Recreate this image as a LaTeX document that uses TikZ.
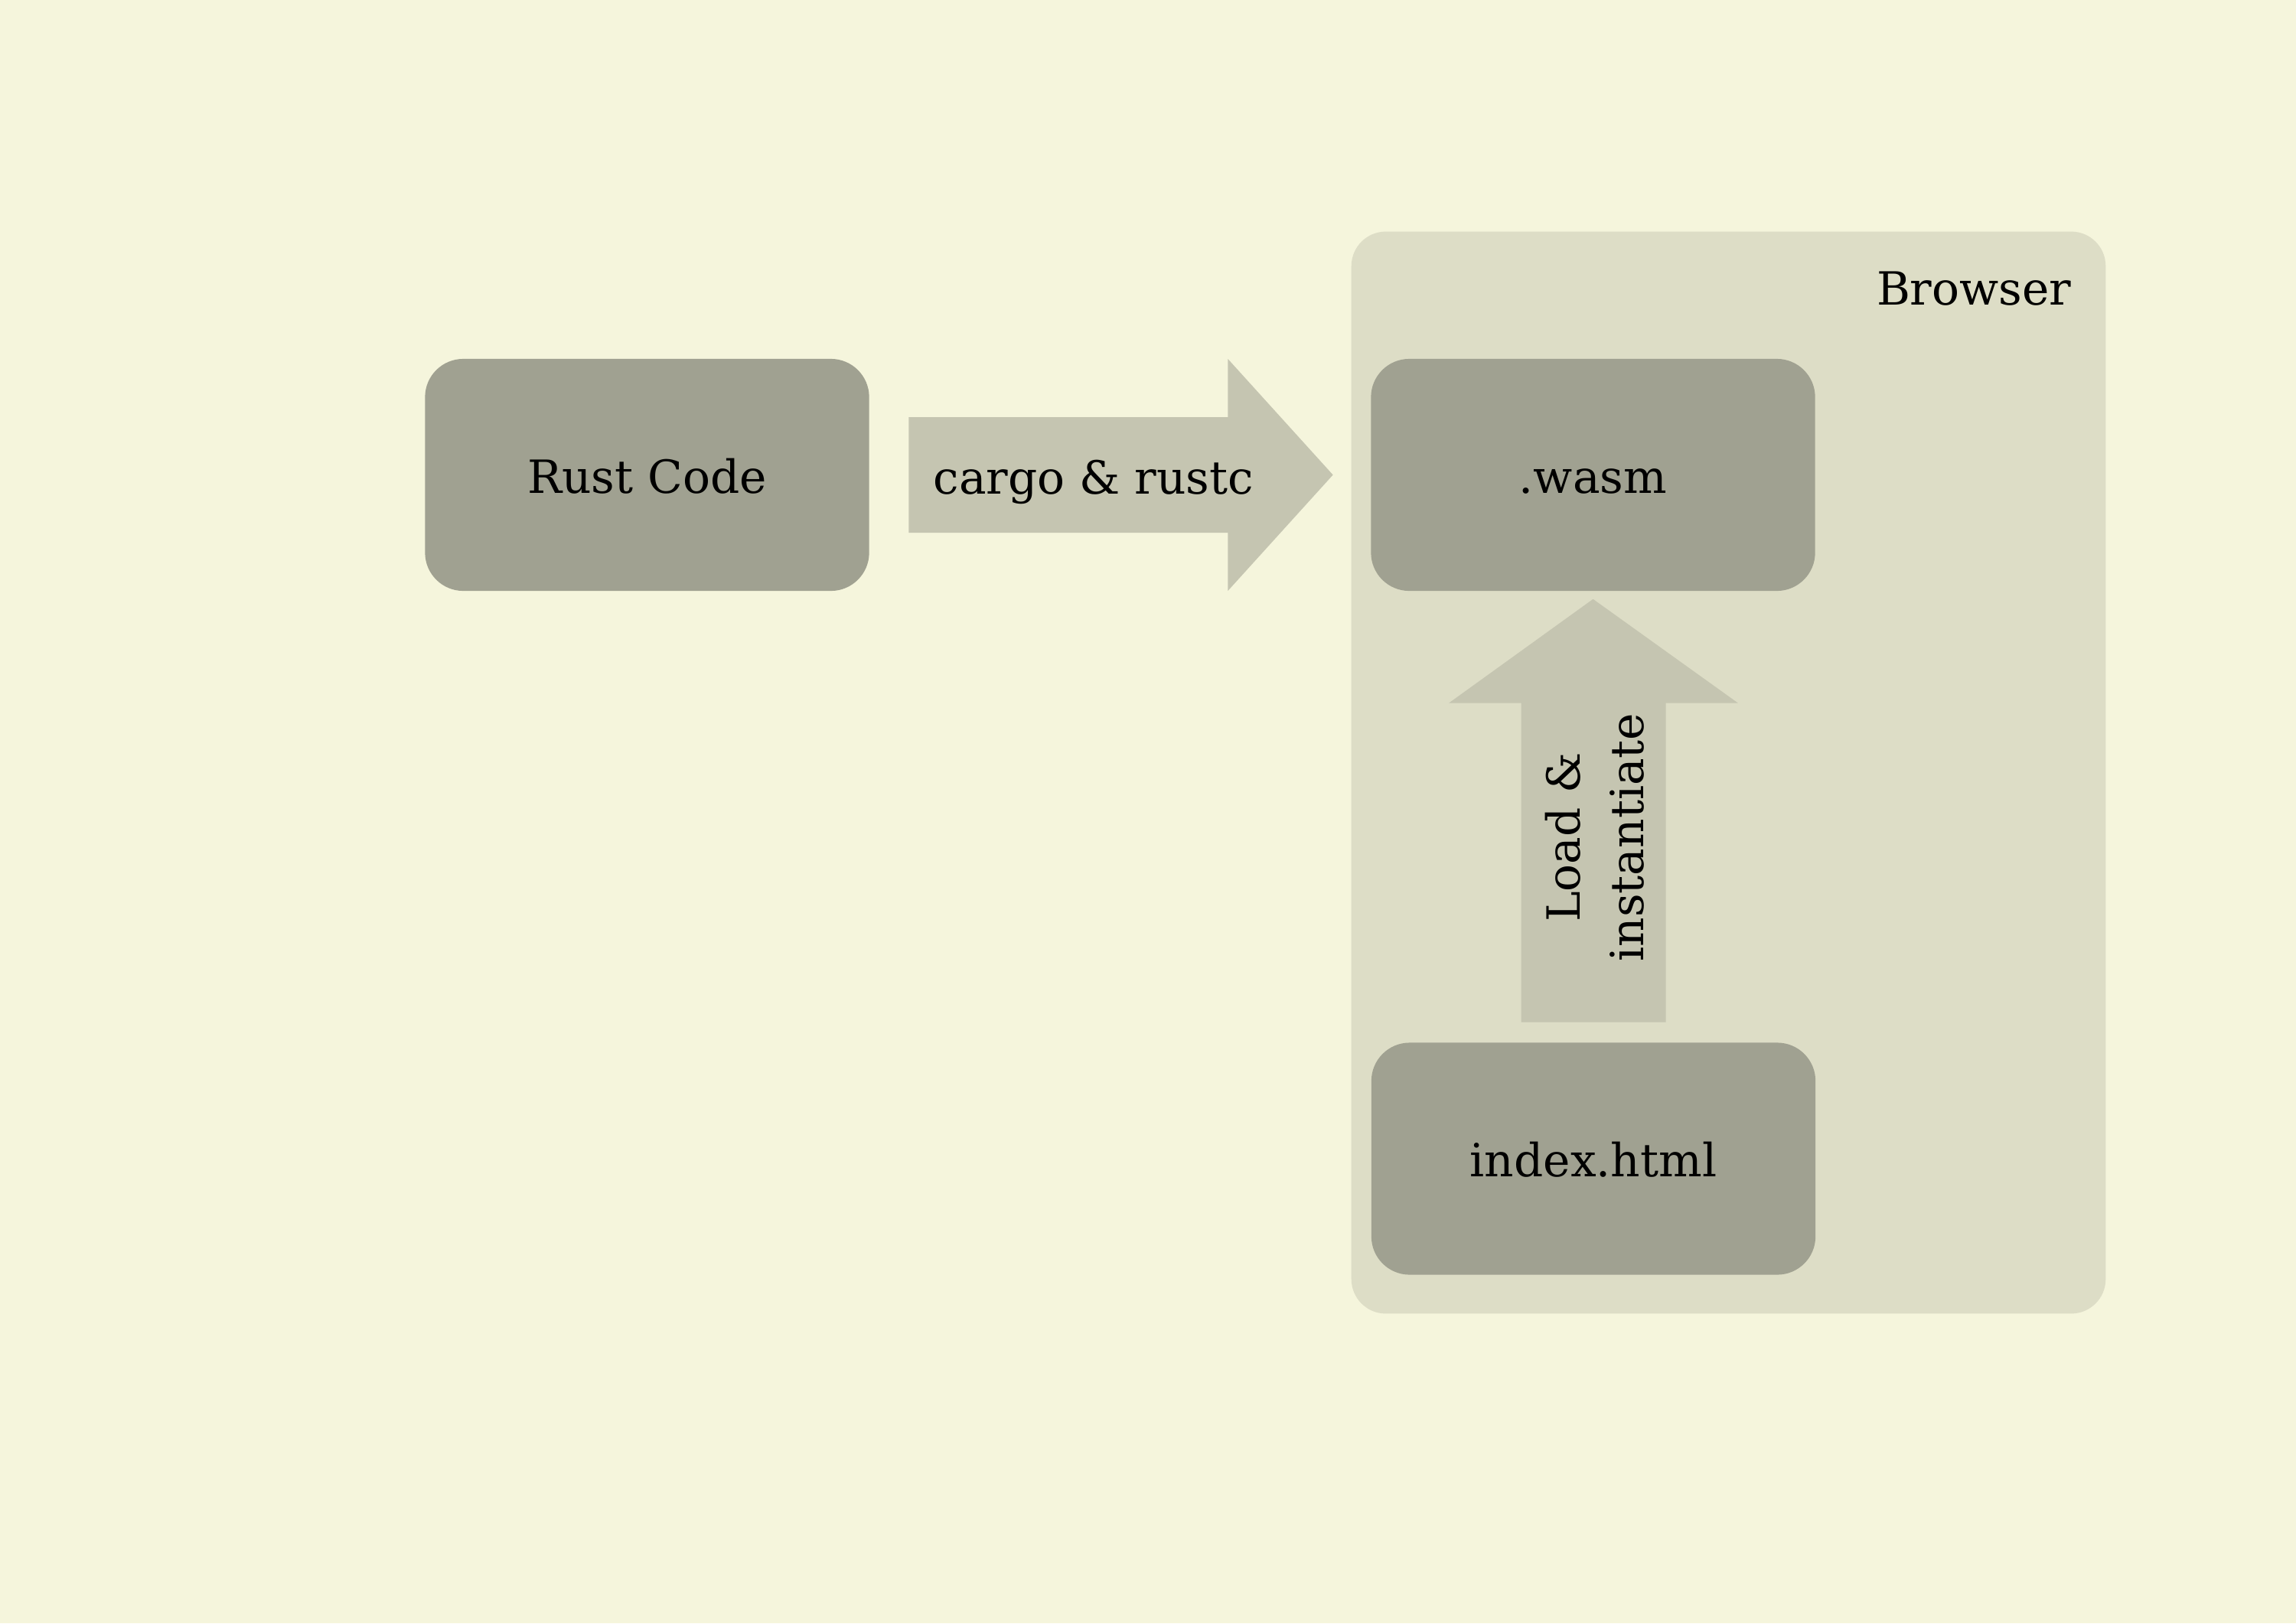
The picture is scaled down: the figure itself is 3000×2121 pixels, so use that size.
\documentclass[tikz,border=0pt]{standalone}
\usepackage{fontspec}
\setmainfont{DejaVu Serif}
\usetikzlibrary{calc}
\definecolor{bgcol}{RGB}{245,245,220}
\definecolor{browsercol}{RGB}{221,221,198}
\definecolor{boxcol}{RGB}{160,161,145}
\definecolor{arrowcol}{RGB}{197,197,177}
\begin{document}
\begin{tikzpicture}[x=0.01cm,y=-0.01cm,
  every node/.style={font=\fontsize{17pt}{23.6pt}\selectfont, text=black},
  filebox/.style={fill=boxcol, rounded corners=0.5cm, minimum width=5.8cm, minimum height=3.03cm, inner sep=0pt, text height=13.5pt, text depth=0pt},
  blockarrow/.style={fill=arrowcol}
]
\fill[bgcol] (0,0) rectangle (3000,2121);
\useasboundingbox (0,0) rectangle (3000,2121);

\node[fill=browsercol, rounded corners=0.45cm, minimum width=9.85cm, minimum height=14.13cm, inner sep=0pt] (browser) at (2258.5,1009.5) {};
\node[anchor=base east, inner sep=0pt] (browserlabel) at (2707,398) {Browser};

\node[filebox] (rust) at (845.5,620.5) {Rust Code};
\node[filebox] (wasm) at (2081.5,620.5) {.wasm};
\node[filebox] (index) at (2082,1514) {index.html};

% compile arrow
\fill[blockarrow] ($(rust.east)+(51,-75.5)$) -- ($(rust.east)+(468,-75.5)$) -- ($(rust.east)+(468,-151.5)$)
  -- ($(wasm.west)+(-49,0)$) -- ($(rust.east)+(468,151.5)$) -- ($(rust.east)+(468,75.5)$)
  -- ($(rust.east)+(51,75.5)$) -- cycle;
\node[anchor=base, inner sep=0pt] (cargolabel) at (1429,645) {cargo \& rustc};

% load arrow
\fill[blockarrow] ($(index.north)+(-94.5,-26)$) -- ($(index.north)+(-94.5,-443)$) -- ($(index.north)+(-189,-443)$)
  -- ($(wasm.south)+(0,10)$) -- ($(index.north)+(189,-443)$) -- ($(index.north)+(94.5,-443)$)
  -- ($(index.north)+(94.5,-26)$) -- cycle;
\node[rotate=90, align=center, inner sep=0pt] (loadlabel) at (2084,1094) {Load \&\\instantiate};
\end{tikzpicture}
\end{document}
